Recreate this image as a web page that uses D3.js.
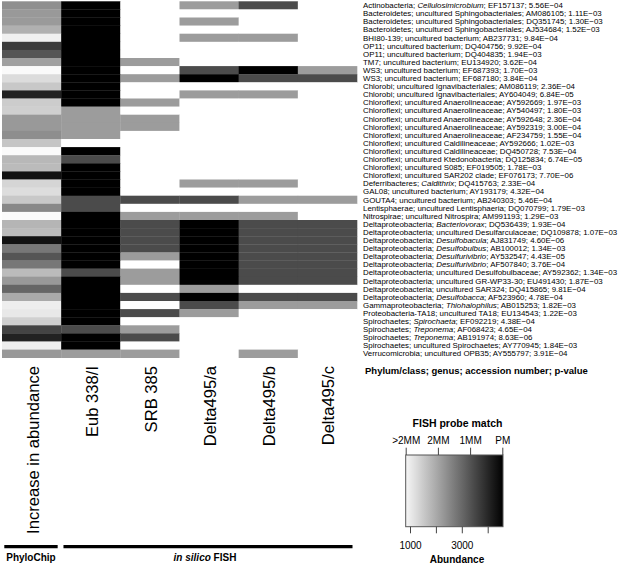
<!DOCTYPE html>
<html>
<head>
<meta charset="utf-8">
<script src="https://cdn.jsdelivr.net/npm/d3@7"></script>
<style>
  body { margin: 0; background: #fff; }
  text { font-family: "Liberation Sans", Arial, sans-serif; fill: #000; }
</style>
</head>
<body>
<div id="chart"></div>
<script>
// row annotations
const phyla = [
  'Actinobacteria', 'Bacteroidetes', 'Bacteroidetes', 'Bacteroidetes', 'BHI80-139', 'OP11', 'OP11', 'TM7',
  'WS3', 'WS3', 'Chlorobi', 'Chlorobi', 'Chloroflexi', 'Chloroflexi', 'Chloroflexi', 'Chloroflexi',
  'Chloroflexi', 'Chloroflexi', 'Chloroflexi', 'Chloroflexi', 'Chloroflexi', 'Chloroflexi', 'Deferribacteres',
  'GAL08', 'GOUTA4', 'Lentisphaerae', 'Nitrospirae', 'Deltaproteobacteria', 'Deltaproteobacteria',
  'Deltaproteobacteria', 'Deltaproteobacteria', 'Deltaproteobacteria', 'Deltaproteobacteria',
  'Deltaproteobacteria', 'Deltaproteobacteria', 'Deltaproteobacteria', 'Deltaproteobacteria',
  'Gammaproteobacteria', 'Proteobacteria-TA18', 'Spirochaetes', 'Spirochaetes', 'Spirochaetes',
  'Spirochaetes', 'Verrucomicrobia',
];
const genera = [
  'Cellulosimicrobium', 'uncultured Sphingobacteriales', 'uncultured Sphingobacteriales',
  'uncultured Sphingobacteriales', 'uncultured bacterium', 'uncultured bacterium', 'uncultured bacterium',
  'uncultured bacterium', 'uncultured bacterium', 'uncultured bacterium', 'uncultured Ignavibacteriales',
  'uncultured Ignavibacteriales', 'uncultured Anaerolineaceae', 'uncultured Anaerolineaceae',
  'uncultured Anaerolineaceae', 'uncultured Anaerolineaceae', 'uncultured Anaerolineaceae',
  'uncultured Caldilineaceae', 'uncultured Caldilineaceae', 'uncultured Ktedonobacteria', 'uncultured S085',
  'uncultured SAR202 clade', 'Caldithrix', 'uncultured bacterium', 'uncultured bacterium',
  'uncultured Lentisphaeria', 'uncultured Nitrospira', 'Bacteriovorax', 'uncultured Desulfarculaceae',
  'Desulfobacula', 'Desulfobulbus', 'Desulfurivibrio', 'Desulfurivibrio', 'uncultured Desulfobulbaceae',
  'uncultured GR-WP33-30', 'uncultured SAR324', 'Desulfobacca', 'Thiohalophilus', 'uncultured TA18',
  'Spirochaeta', 'Treponema', 'Treponema', 'uncultured Spirochaetes', 'uncultured OPB35',
];
const accessions = [
  'EF157137', 'AM086105', 'DQ351745', 'AJ534684', 'AB237731', 'DQ404756', 'DQ404835', 'EU134920',
  'EF687393', 'EF687180', 'AM086119', 'AY604049', 'AY592669', 'AY540497', 'AY592648', 'AY592319',
  'AF234759', 'AY592666', 'DQ450728', 'DQ125834', 'EF019505', 'EF076173', 'DQ415763', 'AY193179',
  'AB240303', 'DQ070799', 'AM991193', 'DQ536439', 'DQ109878', 'AJ831749', 'AB100012', 'AY532547',
  'AF507840', 'AY592362', 'EU491430', 'DQ415865', 'AF523960', 'AB015253', 'EU134543', 'EF092219',
  'AF068423', 'AB191974', 'AY770945', 'AY555797',
];
const pValues = [
  '5.56E-04', '1.11E-03', '1.30E-03', '1.52E-03', '9.84E-04', '9.92E-04', '1.94E-03', '3.62E-04',
  '1.70E-03', '3.84E-04', '2.36E-04', '6.84E-05', '1.97E-03', '1.80E-03', '2.36E-04', '3.00E-04',
  '1.55E-04', '1.02E-03', '7.53E-04', '6.74E-05', '1.78E-03', '7.70E-06', '2.33E-04', '4.32E-04',
  '5.46E-04', '1.79E-03', '1.29E-03', '1.93E-04', '1.07E-03', '4.60E-06', '1.34E-03', '4.43E-05',
  '3.76E-04', '1.34E-03', '1.87E-03', '9.81E-04', '4.78E-04', '1.82E-03', '1.22E-03', '4.38E-04',
  '4.65E-04', '8.63E-06', '1.84E-03', '3.91E-04',
];

// PhyloChip abundance increase
const abundance = [
  2410, 2260, 2245, 1910, 930, 3680, 3300, 2150, 780, 1235, 1540, 4080, 1480, 1430, 2260,
  2260, 2430, 1590, 780, 1790, 1740, 4340, 1340, 1220, 1540, 2520, 760, 1830, 1740, 4340,
  2780, 3300, 2780, 1740, 2260, 3040, 2000, 960, 1050, 1420, 3560, 4080, 960, 2260,
];

// in silico FISH: 0 = >2MM, 1 = 2MM, 2 = 1MM, 3 = PM
const eub338 = [3,3,3,3,3,3,3,3,3,3,3,3,3,1,1,1,1,0,3,2,3,3,3,3,2,2,3,3,3,3,3,3,3,2,3,3,3,3,3,3,2,3,3,1];
const srb385 = [0,0,0,0,0,0,0,1,0,1,0,0,1,0,1,1,0,0,0,0,0,0,0,0,2,0,1,2,2,2,2,1,0,1,1,0,2,0,2,0,1,2,0,1];
const delta495a = [1,0,1,0,1,0,0,0,2,3,0,1,0,0,0,0,0,0,0,0,0,0,1,0,2,0,1,3,3,3,3,3,3,3,3,1,3,2,1,0,0,0,0,0];
const delta495b = [2,0,0,0,1,0,0,0,3,2,0,1,0,0,0,0,0,0,0,0,0,0,1,0,1,0,1,2,2,2,2,2,2,2,2,0,2,1,0,0,0,0,0,1];
const delta495c = [0,0,0,0,0,0,0,0,1,2,0,0,0,0,0,0,0,0,0,0,0,0,0,0,1,0,0,2,2,2,2,2,2,2,2,0,2,1,0,0,0,0,0,0];

const columnLabels = ['Increase in abundance', 'Eub 338/I', 'SRB 385', 'Delta495/a', 'Delta495/b', 'Delta495/c'];
const matchLabels = ['>2MM', '2MM', '1MM', 'PM'];
const abundanceTicks = [1000, 2000, 3000, 4000];
const abundanceTickLabels = [1000, 3000];

const probeColumns = [eub338, srb385, delta495a, delta495b, delta495c];
const nRows = phyla.length;

const svg = d3.select('#chart').append('svg')
  .attr('width', 627)
  .attr('height', 565);

const x = d3.scaleBand().domain(d3.range(columnLabels.length)).range([2, 357]);
const y = d3.scaleBand().domain(d3.range(nRows)).range([1.3, 357.7]);

const abundanceColor = d3.scaleLinear().domain([700, 4600]).range(['#ffffff', '#000000']).clamp(true);
const matchColor = d3.scaleOrdinal().domain([0, 1, 2, 3]).range(['#ffffff', '#9c9c9c', '#4b4b4b', '#000000']);

const cells = [];
d3.range(nRows).forEach((i) => {
  cells.push({ row: i, col: 0, fill: abundanceColor(abundance[i]) });
  probeColumns.forEach((p, j) => {
    cells.push({ row: i, col: j + 1, fill: matchColor(p[i]) });
  });
});

svg.append('g').selectAll('rect')
  .data(cells)
  .enter()
  .append('rect')
  .attr('x', d => x(d.col))
  .attr('y', d => y(d.row))
  .attr('width', x.bandwidth() + 0.3)
  .attr('height', y.bandwidth() + 0.3)
  .style('fill', d => d.fill);

// column labels
svg.append('g').selectAll('text')
  .data(columnLabels)
  .enter()
  .append('text')
  .attr('transform', (d, i) => `translate(${x(i) + x.bandwidth() / 2 + 7}, 366) rotate(-90)`)
  .attr('text-anchor', 'end')
  .style('font-size', '16.6px')
  .text(d => d);

// row labels
const labels = svg.append('g').selectAll('text')
  .data(d3.range(nRows))
  .enter()
  .append('text')
  .attr('x', 363)
  .attr('y', i => y(i) + y.bandwidth() / 2)
  .attr('dy', '0.35em')
  .style('font-size', '7.9px');

labels.append('tspan').text(i => `${phyla[i]}; `);
labels.append('tspan')
  .style('font-style', i => (genera[i].startsWith('uncultured') ? 'normal' : 'italic'))
  .text(i => genera[i]);
labels.append('tspan').text(i => `; ${accessions[i]}; ${pValues[i].replace('-', '\u2212')}`);

svg.append('text')
  .attr('x', 365)
  .attr('y', 374)
  .style('font-size', '9.5px')
  .style('font-weight', 'bold')
  .text('Phylum/class; genus; accession number; p-value');

// group brackets under the columns
const bw = x.bandwidth();
const groups = [
  { from: x(0) + 2.3, to: x(1) - 3.5, label: 'PhyloChip' },
  { from: x(1) + 2.3, to: x(5) + bw - 4.5, label: 'FISH' },
];
svg.append('g').selectAll('line')
  .data(groups)
  .enter()
  .append('line')
  .attr('x1', d => d.from)
  .attr('x2', d => d.to)
  .attr('y1', 546.7)
  .attr('y2', 546.7)
  .attr('stroke', '#000')
  .attr('stroke-width', 3.3);

svg.append('text')
  .attr('x', (groups[0].from + groups[0].to) / 2)
  .attr('y', 561)
  .attr('text-anchor', 'middle')
  .style('font-size', '10px')
  .style('font-weight', 'bold')
  .text('PhyloChip');

const fishLabel = svg.append('text')
  .attr('x', (groups[1].from + groups[1].to) / 2 - 3)
  .attr('y', 561)
  .attr('text-anchor', 'middle')
  .style('font-size', '10px')
  .style('font-weight', 'bold');
fishLabel.append('tspan').style('font-style', 'italic').text('in silico');
fishLabel.append('tspan').text(' FISH');

// legend
const barLeft = 405.7, barRight = 503, barTop = 455, barBottom = 526.7;
const abundanceScale = d3.scaleLinear().domain([1000, 4000]).range([410, 487.7]);
const matchScale = d3.scaleLinear().domain([0, 3]).range([barLeft, 502.3]);

const grad = svg.append('defs').append('linearGradient')
  .attr('id', 'abundanceGrad')
  .attr('x1', '0%').attr('x2', '100%').attr('y1', '0%').attr('y2', '0%');
const a0 = abundanceScale.invert(barLeft), a1 = abundanceScale.invert(barRight);
d3.range(11).forEach((k) => {
  const t = k / 10;
  grad.append('stop')
    .attr('offset', `${t * 100}%`)
    .attr('stop-color', abundanceColor(a0 + t * (a1 - a0)));
});

svg.append('rect')
  .attr('x', barLeft)
  .attr('y', barTop)
  .attr('width', barRight - barLeft)
  .attr('height', barBottom - barTop)
  .style('fill', 'url(#abundanceGrad)')
  .attr('stroke', '#555')
  .attr('stroke-width', 1);

const topAxis = d3.axisTop(matchScale)
  .tickValues([0, 1, 2, 3])
  .tickFormat(d => matchLabels[d])
  .tickSize(7.3)
  .tickPadding(4.2);
const topG = svg.append('g')
  .attr('transform', `translate(0, ${barTop})`)
  .call(topAxis);
topG.select('.domain').remove();
topG.selectAll('line').attr('stroke', '#444');
topG.selectAll('text').style('font-size', '10px').style('font-family', '"Liberation Sans", Arial, sans-serif');

const bottomAxis = d3.axisBottom(abundanceScale)
  .tickValues(abundanceTicks)
  .tickFormat(d => (abundanceTickLabels.includes(d) ? d : ''))
  .tickSize(6.6)
  .tickPadding(8.6);
const bottomG = svg.append('g')
  .attr('transform', `translate(0, ${barBottom})`)
  .call(bottomAxis);
bottomG.select('.domain').remove();
bottomG.selectAll('line').attr('stroke', '#444');
bottomG.selectAll('text').style('font-size', '10px').style('font-family', '"Liberation Sans", Arial, sans-serif');

svg.append('text')
  .attr('x', 457.5)
  .attr('y', 427)
  .attr('text-anchor', 'middle')
  .style('font-size', '10.5px')
  .style('font-weight', 'bold')
  .text('FISH probe match');

svg.append('text')
  .attr('x', 457)
  .attr('y', 563)
  .attr('text-anchor', 'middle')
  .style('font-size', '10px')
  .style('font-weight', 'bold')
  .text('Abundance');
</script>
</body>
</html>
